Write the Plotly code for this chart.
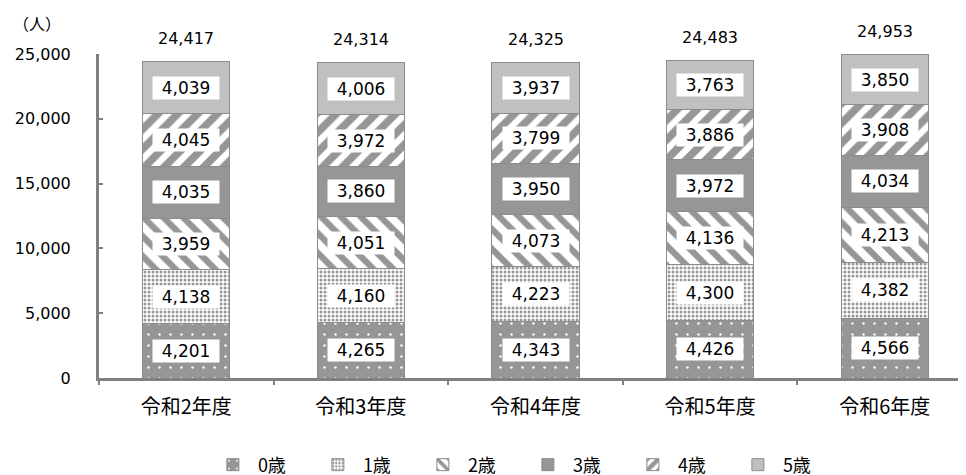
import plotly.graph_objects as go

categories = ["令和2年度", "令和3年度", "令和4年度", "令和5年度", "令和6年度"]
series_names = ["0歳", "1歳", "2歳", "3歳", "4歳", "5歳"]
age0 = [4201, 4265, 4343, 4426, 4566]
age1 = [4138, 4160, 4223, 4300, 4382]
age2 = [3959, 4051, 4073, 4136, 4213]
age3 = [4035, 3860, 3950, 3972, 4034]
age4 = [4045, 3972, 3799, 3886, 3908]
age5 = [4039, 4006, 3937, 3763, 3850]
totals = [24417, 24314, 24325, 24483, 24953]
y_ticks = [0, 5000, 10000, 15000, 20000, 25000]

series = [age0, age1, age2, age3, age4, age5]
GRAY = "#969696"
LIGHT = "#c0c0c0"
styles = [
    dict(color=GRAY, pattern=dict(shape=".", fgcolor="white", bgcolor=GRAY, size=11, solidity=0.04, fillmode="replace")),
    dict(color="white", pattern=dict(shape=".", fgcolor=GRAY, bgcolor="white", size=4, solidity=0.45, fillmode="replace")),
    dict(color="white", pattern=dict(shape="\\", fgcolor=GRAY, bgcolor="white", size=14, solidity=0.45, fillmode="replace")),
    dict(color=GRAY),
    dict(color="white", pattern=dict(shape="/", fgcolor=GRAY, bgcolor="white", size=14, solidity=0.55, fillmode="replace")),
    dict(color=LIGHT),
]

num_font = "DejaVu Sans, Noto Sans CJK JP, sans-serif"
jp_font = "Noto Sans CJK JP, DejaVu Sans, sans-serif"
fig = go.Figure()
for name, vals, st in zip(series_names, series, styles):
    marker = dict(st)
    marker["line"] = dict(color="#8c8c8c", width=1)
    fig.add_trace(go.Bar(x=categories, y=vals, name=name, marker=marker, width=0.5))

annotations = []
for i, cat in enumerate(categories):
    cum = 0
    for vals in series:
        v = vals[i]
        annotations.append(dict(x=cat, y=cum + v / 2, text=f"{v:,}", showarrow=False,
                                bgcolor="white", borderpad=0, width=66, height=22,
                                font=dict(size=17, color="black", family=num_font)))
        cum += v
    annotations.append(dict(x=cat, y=totals[i], text=f"{totals[i]:,}", showarrow=False,
                            yanchor="bottom", yshift=12,
                            font=dict(size=16, color="black", family=num_font)))
annotations.append(dict(x=0, y=1, xref="paper", yref="paper", xshift=-62, yshift=31,
                        text="（人）", showarrow=False, xanchor="center", yanchor="middle",
                        font=dict(size=16, color="black", family=jp_font)))

fig.update_layout(
    barmode="stack",
    width=966, height=475,
    margin=dict(l=91, r=2, t=46, b=105, autoexpand=False),
    plot_bgcolor="white", paper_bgcolor="white",
    font=dict(family=num_font, size=16, color="black"),
    annotations=annotations,
    legend=dict(orientation="h", x=0.533, xref="container", xanchor="center",
                y=0.038, yref="container", yanchor="middle",
                font=dict(size=18, family=jp_font), traceorder="normal", itemwidth=40,
                entrywidth=50, entrywidthmode="pixels"),
    xaxis=dict(range=[-0.5, 4.5], showline=True, linecolor="#808080", linewidth=3,
               ticks="outside", tickson="boundaries", tickcolor="#808080", ticklen=4,
               tickwidth=2, tickfont=dict(size=20, family=jp_font), ticklabelstandoff=9),
    yaxis=dict(range=[0, 25000], tickvals=y_ticks, tickformat=",", showline=True,
               linecolor="#808080", linewidth=3, ticks="inside", ticklen=4, tickwidth=2,
               tickcolor="#808080", showgrid=False, zeroline=False, tickfont=dict(size=16),
               ticklabelstandoff=22),
    bargap=0.5,
)

fig.write_html("out.html")
